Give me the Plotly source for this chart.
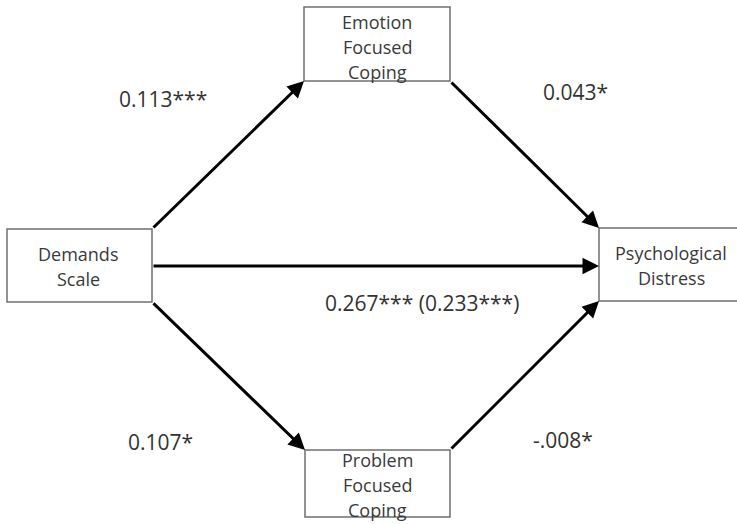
import plotly.graph_objects as go

# ---- data ----
node_ids = ["demands", "emotion", "problem", "distress"]
node_labels = ["Demands<br>Scale", "Emotion<br>Focused<br>Coping", "Problem<br>Focused<br>Coping", "Psychological<br>Distress"]
path_from = ["demands", "emotion", "demands", "demands", "problem"]
path_to = ["emotion", "distress", "distress", "problem", "distress"]
path_coef = ["0.113***", "0.043*", "0.267*** (0.233***)", "0.107*", "-.008*"]

# ---- layout (pixel coordinates in a 737x524 canvas) ----
W, H = 737, 524
boxes = {
    "demands": (7, 229, 152, 302),
    "emotion": (304, 7, 450, 81),
    "problem": (305, 450, 450, 517),
    "distress": (599, 228, 745, 301),
}
text_centers = {"demands": (78, 266), "emotion": (377, 47), "problem": (377, 485), "distress": (671, 265)}
line_gap = 25
arrow_ends = [((152, 229), (304, 81)), ((450, 81), (599, 228)), ((152, 266), (599, 266)),
              ((152, 302), (305, 450)), ((450, 450), (599, 301))]
label_pos = [(163, 99), (575, 92), (422, 303), (160, 442), (563, 440)]

fig = go.Figure()
fig.add_trace(go.Scatter(x=[0, W], y=[0, H], mode="markers", marker=dict(opacity=0),
                         hoverinfo="skip", showlegend=False))

shapes = []
annotations = []
for nid, lab in zip(node_ids, node_labels):
    x0, y0, x1, y1 = boxes[nid]
    shapes.append(dict(type="rect", x0=x0, y0=y0, x1=x1, y1=y1, xref="x", yref="y",
                       line=dict(color="#6f6f6f", width=1.5), fillcolor="white", layer="below"))
    lines = lab.split("<br>")
    cx, cy = text_centers[nid]
    n = len(lines)
    for i, ln in enumerate(lines):
        yy = cy + (i - (n - 1) / 2) * line_gap
        annotations.append(dict(x=cx, y=yy, xref="x", yref="y", text=ln, showarrow=False,
                                font=dict(family="Open Sans", size=18, color="#3a3a3a"),
                                xanchor="center", yanchor="middle"))

for (s, e), coef, (lx, ly) in zip(arrow_ends, path_coef, label_pos):
    annotations.append(dict(x=e[0], y=e[1], ax=s[0], ay=s[1], xref="x", yref="y", axref="x", ayref="y",
                            text="", showarrow=True, arrowhead=2, arrowsize=1.1, arrowwidth=3,
                            arrowcolor="black", standoff=0, startstandoff=0))
    annotations.append(dict(x=lx, y=ly, xref="x", yref="y", text=coef, showarrow=False,
                            font=dict(family="Open Sans", size=21, color="#333333"),
                            xanchor="center", yanchor="middle"))

fig.update_layout(
    width=W, height=H, margin=dict(l=0, r=0, t=0, b=0),
    paper_bgcolor="white", plot_bgcolor="white",
    xaxis=dict(range=[0, W], visible=False, fixedrange=True),
    yaxis=dict(range=[H, 0], visible=False, fixedrange=True),
    shapes=shapes, annotations=annotations, showlegend=False,
)
fig.write_html("out.html", config={"displayModeBar": False, "staticPlot": True},
               post_script="document.body.style.margin='0px';document.body.style.overflow='hidden';")
